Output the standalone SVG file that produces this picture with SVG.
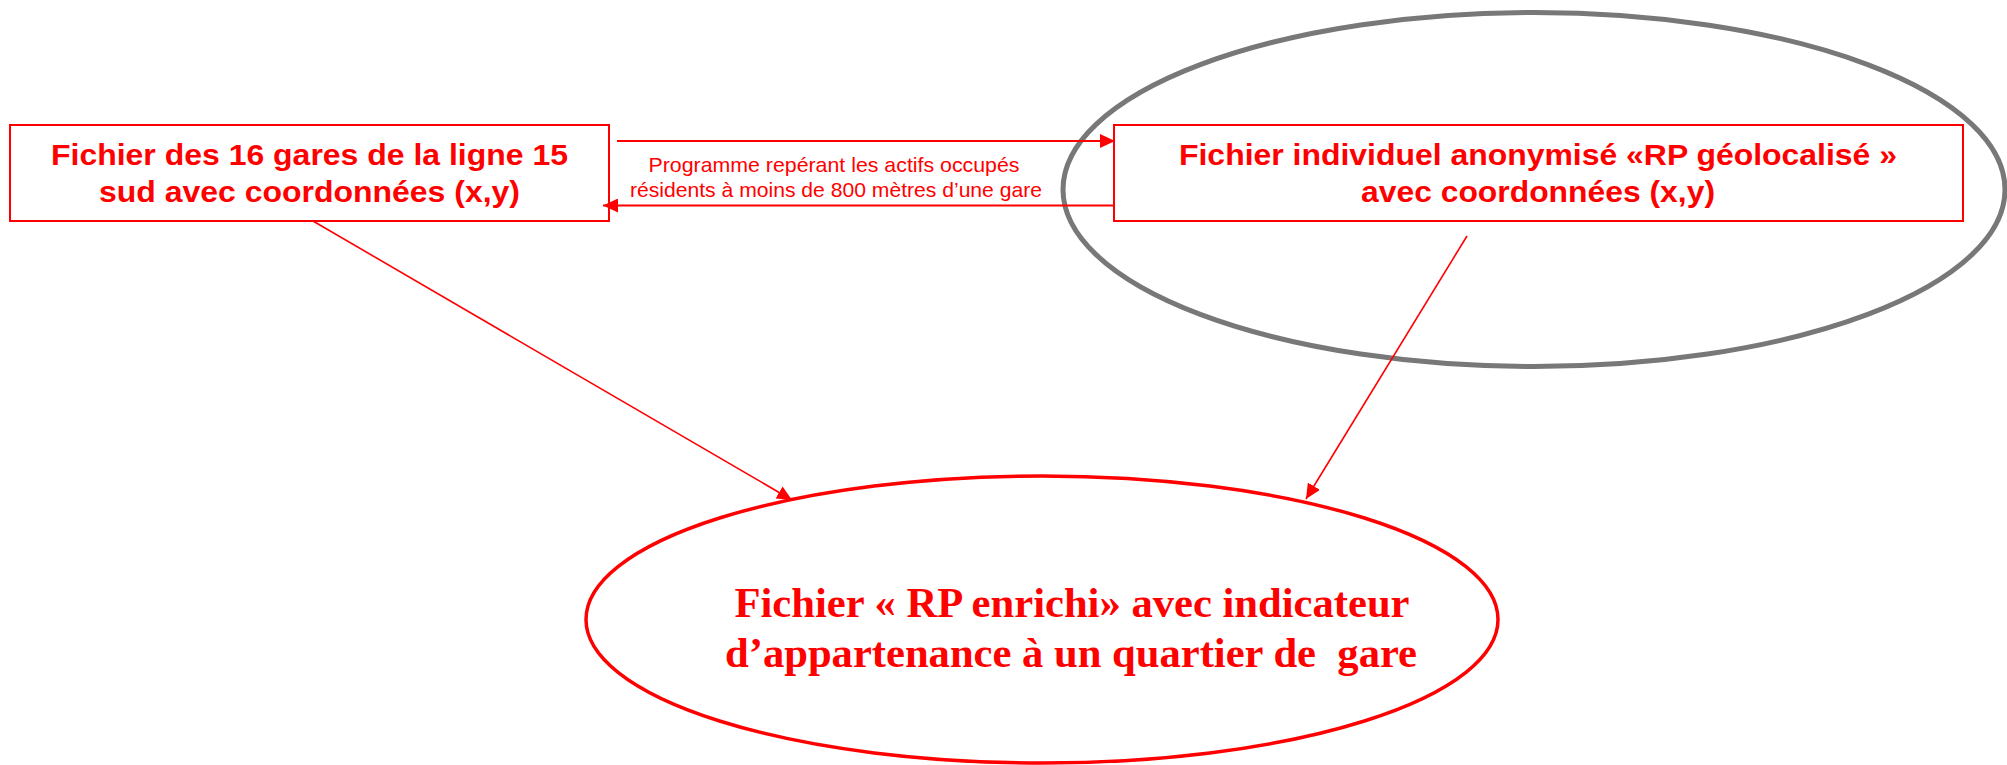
<svg xmlns="http://www.w3.org/2000/svg" width="2007" height="765" viewBox="0 0 2007 765">
<style>
.box{fill:#fff;stroke:#ff0000;stroke-width:2}
.bt{font-family:"Liberation Sans",Arial,sans-serif;font-weight:bold;font-size:30px;fill:#ff0000;text-anchor:middle}
.lbl{font-family:"Liberation Sans",Arial,sans-serif;font-size:21px;fill:#ff0000;text-anchor:middle}
.et{font-family:"Liberation Serif","Times New Roman",serif;font-weight:bold;font-size:43px;fill:#ff0000;text-anchor:middle}
.conn{stroke:#ff0000;fill:none}
</style>
<defs>
<marker id="ah" markerUnits="userSpaceOnUse" markerWidth="15" markerHeight="14" refX="15" refY="7" orient="auto">
<path d="M0,0 L15,7 L0,14 z" fill="#ff0000"/>
</marker>
</defs>
<g id="zone">
<ellipse cx="1534" cy="189.5" rx="471" ry="177" fill="none" stroke="#787878" stroke-width="5"/>
</g>
<g id="gares">
<rect class="box" x="10" y="125" width="599" height="96"/>
<text class="bt" x="309.5" y="165" textLength="517" lengthAdjust="spacingAndGlyphs">Fichier des 16 gares de la ligne 15</text>
<text class="bt" x="309.5" y="202" textLength="421" lengthAdjust="spacingAndGlyphs">sud avec coordonnées (x,y)</text>
</g>
<g id="rp">
<rect class="box" x="1114" y="125" width="849" height="96"/>
<text class="bt" x="1538" y="165" textLength="718" lengthAdjust="spacingAndGlyphs">Fichier individuel anonymisé «RP géolocalisé »</text>
<text class="bt" x="1538" y="202" textLength="354" lengthAdjust="spacingAndGlyphs">avec coordonnées (x,y)</text>
</g>
<g id="enrichi">
<ellipse cx="1042" cy="619.5" rx="456" ry="143.5" fill="none" stroke="#ff0000" stroke-width="3.5"/>
<text class="et" x="1072" y="617" textLength="675" lengthAdjust="spacingAndGlyphs">Fichier « RP enrichi» avec indicateur</text>
<text class="et" x="1071" y="667" textLength="692" lengthAdjust="spacingAndGlyphs" xml:space="preserve">d’appartenance à un quartier de  gare</text>
</g>
<g id="connectors">
<line class="conn" x1="617" y1="141" x2="1115" y2="141" stroke-width="2" marker-end="url(#ah)"/>
<line class="conn" x1="1115" y1="205.5" x2="603" y2="205.5" stroke-width="2" marker-end="url(#ah)"/>
<text class="lbl" x="834" y="172" textLength="371" lengthAdjust="spacingAndGlyphs">Programme repérant les actifs occupés</text>
<text class="lbl" x="836" y="197" textLength="412" lengthAdjust="spacingAndGlyphs">résidents à moins de 800 mètres d’une gare</text>
<line class="conn" x1="313" y1="221" x2="792" y2="500" stroke-width="1.6" marker-end="url(#ah)"/>
<line class="conn" x1="1467" y1="236" x2="1306" y2="499" stroke-width="1.6" marker-end="url(#ah)"/>
</g>
</svg>
